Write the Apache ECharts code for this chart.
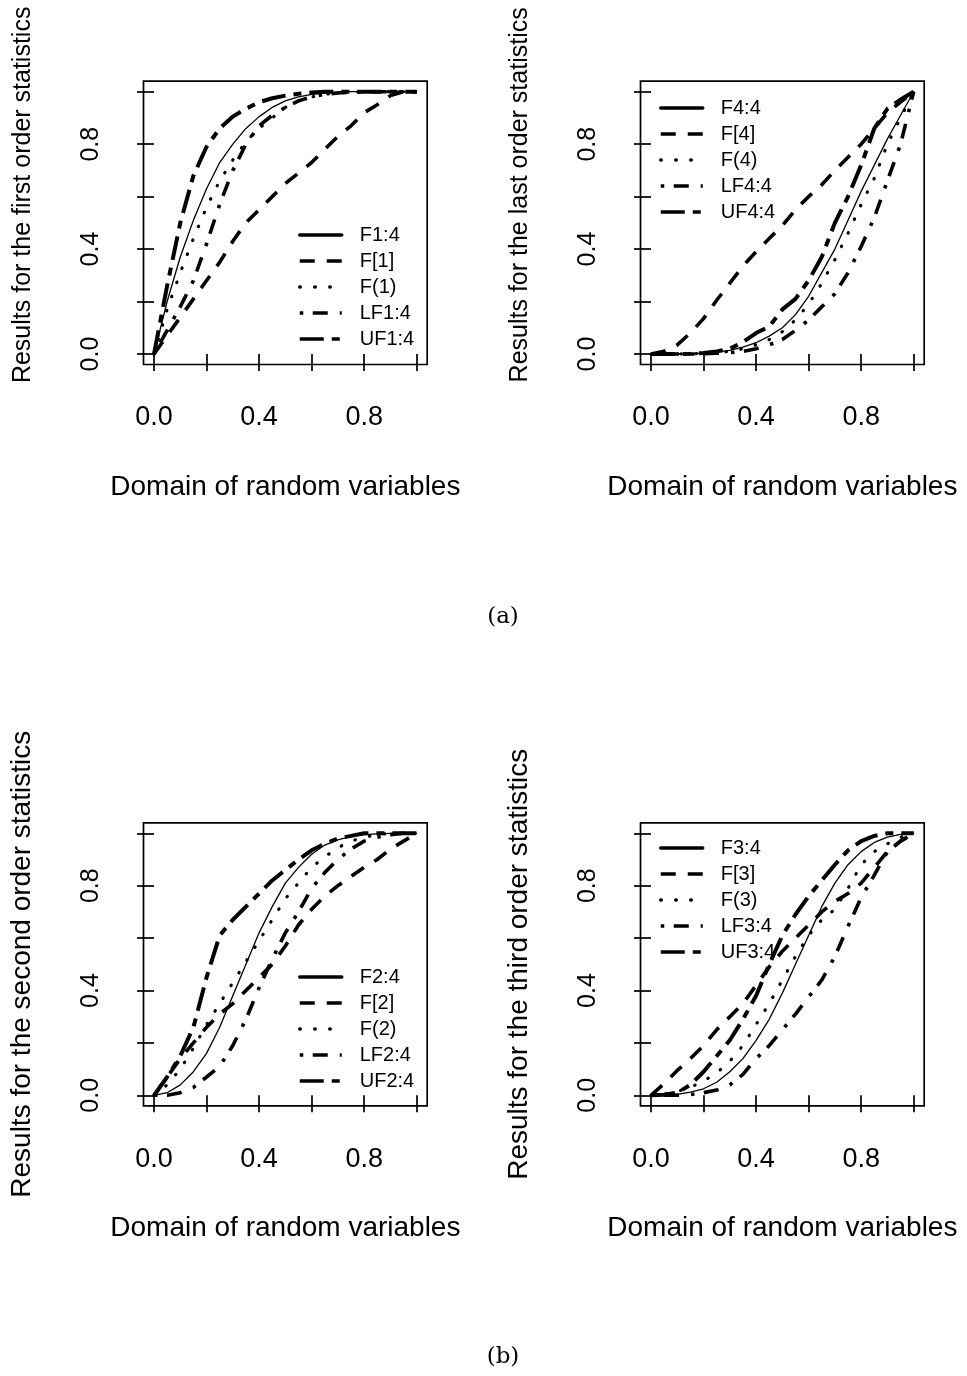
<!DOCTYPE html>
<html>
<head>
<meta charset="utf-8">
<script src="https://cdn.jsdelivr.net/npm/echarts@6/dist/echarts.min.js"></script>
<style>
html,body{margin:0;padding:0;background:#fff;}
#chart{width:967px;height:1376px;}
</style>
</head>
<body>
<div id="chart"></div>
<script>
// Domain grid (x values)
var xs = [0,0.05,0.1,0.15,0.2,0.25,0.3,0.35,0.4,0.45,0.5,0.55,0.6,0.65,0.7,0.75,0.8,0.85,0.9,0.95,1];

// Tick values
var tickValues = [0,0.2,0.4,0.6,0.8,1];
var labelValues = [0,0.4,0.8];

// Panel 1: first order statistics
var names1 = ['F1:4','F[1]','F(1)','LF1:4','UF1:4'];
var F1_4  = [0,0.2,0.37,0.51,0.63,0.73,0.80,0.86,0.905,0.94,0.965,0.98,0.99,0.995,0.998,1,1,1,1,1,1];
var Fb1   = [0,0.07,0.14,0.21,0.28,0.35,0.43,0.5,0.55,0.6,0.65,0.69,0.73,0.78,0.83,0.87,0.92,0.95,0.985,1,1];
var Fp1   = [0,0.17,0.31,0.44,0.56,0.66,0.74,0.81,0.86,0.9,0.94,0.965,0.98,0.99,0.995,0.998,1,1,1,1,1];
var LF1_4 = [0,0.09,0.18,0.28,0.42,0.57,0.70,0.80,0.87,0.91,0.94,0.965,0.98,0.99,0.995,0.998,1,1,1,1,1];
var UF1_4 = [0,0.26,0.5,0.68,0.79,0.86,0.905,0.935,0.96,0.975,0.985,0.992,0.997,1,1,1,1,1,1,1,1];

// Panel 2: last order statistics
var names2 = ['F4:4','F[4]','F(4)','LF4:4','UF4:4'];
var F4_4  = [0,0,0,0.001,0.003,0.007,0.014,0.026,0.043,0.068,0.10,0.15,0.22,0.31,0.40,0.51,0.62,0.72,0.82,0.91,1];
var Fb4   = [0,0.01,0.035,0.08,0.135,0.205,0.27,0.335,0.39,0.44,0.49,0.55,0.6,0.645,0.7,0.75,0.8,0.86,0.92,0.96,1];
var Fp4   = [0,0,0,0.001,0.002,0.005,0.01,0.02,0.035,0.055,0.085,0.13,0.19,0.27,0.36,0.46,0.57,0.67,0.8,0.9,1];
var LF4_4 = [0,0,0,0,0.001,0.003,0.005,0.01,0.02,0.035,0.055,0.09,0.13,0.18,0.23,0.31,0.41,0.52,0.66,0.8,1];
var UF4_4 = [0,0,0,0.001,0.004,0.01,0.02,0.045,0.08,0.105,0.17,0.21,0.28,0.37,0.5,0.6,0.72,0.86,0.935,0.97,1];

// Panel 3: second order statistics
var names3 = ['F2:4','F[2]','F(2)','LF2:4','UF2:4'];
var F2_4  = [0,0.01,0.04,0.09,0.16,0.26,0.38,0.5,0.62,0.72,0.81,0.87,0.92,0.955,0.975,0.988,0.995,0.998,1,1,1];
var Fb2   = [0,0.07,0.14,0.2,0.26,0.31,0.35,0.4,0.45,0.5,0.57,0.65,0.71,0.76,0.8,0.835,0.87,0.9,0.94,0.97,1];
var Fp2   = [0,0.04,0.1,0.18,0.27,0.35,0.43,0.51,0.59,0.67,0.75,0.81,0.87,0.91,0.945,0.97,0.985,0.995,1,1,1];
var LF2_4 = [0,0,0.01,0.03,0.07,0.11,0.19,0.29,0.41,0.52,0.62,0.7,0.79,0.85,0.9,0.94,0.97,0.985,0.995,1,1];
var UF2_4 = [0,0.07,0.15,0.26,0.45,0.61,0.67,0.72,0.77,0.82,0.86,0.9,0.935,0.96,0.98,0.99,1,1,1,1,1];

// Panel 4: third order statistics
var names4 = ['F3:4','F[3]','F(3)','LF3:4','UF3:4'];
var F3_4  = [0,0.001,0.004,0.012,0.025,0.05,0.09,0.14,0.21,0.29,0.39,0.5,0.61,0.72,0.81,0.88,0.93,0.965,0.985,0.996,1];
var Fb3   = [0,0.045,0.095,0.14,0.19,0.25,0.3,0.35,0.42,0.49,0.55,0.6,0.65,0.7,0.74,0.77,0.81,0.87,0.93,0.97,1];
var Fp3   = [0,0.005,0.015,0.03,0.055,0.085,0.13,0.19,0.27,0.35,0.44,0.53,0.61,0.67,0.71,0.79,0.88,0.93,0.96,0.985,1];
var LF3_4 = [0,0,0,0.003,0.01,0.02,0.04,0.08,0.14,0.19,0.25,0.31,0.375,0.44,0.53,0.645,0.755,0.84,0.93,0.97,1];
var UF3_4 = [0,0.002,0.01,0.04,0.09,0.15,0.21,0.29,0.38,0.5,0.61,0.69,0.76,0.82,0.88,0.935,0.97,0.99,1,1,1];

var xTitle = 'Domain of random variables';
var yTitles = ['Results for the first order statistics','Results for the last order statistics',
               'Results for the second order statistics','Results for the third order statistics'];
var captions = ['(a)','(b)'];

var panels = [
  {names: names1, ys: [F1_4, Fb1, Fp1, LF1_4, UF1_4]},
  {names: names2, ys: [F4_4, Fb4, Fp4, LF4_4, UF4_4]},
  {names: names3, ys: [F2_4, Fb2, Fp2, LF2_4, UF2_4]},
  {names: names4, ys: [F3_4, Fb3, Fp3, LF3_4, UF3_4]}
];

// layout (not data)
var gridPos = [
  {left: 143.5, top: 81.2, width: 283.7, height: 283.3},
  {left: 640.5, top: 81.2, width: 283.7, height: 283.3},
  {left: 143.5, top: 822.8, width: 283.7, height: 283.0},
  {left: 640.5, top: 822.8, width: 283.7, height: 283.0}
];
var legendPos = [
  {left: 298, top: 225},
  {left: 659, top: 98},
  {left: 298, top: 967},
  {left: 659, top: 838}
];
var lineStyles = [
  {width: 1.3, type: 'solid', cap: 'round'},
  {width: 3.6, type: [15, 12], cap: 'butt'},
  {width: 3.2, type: [0.5, 14.5], cap: 'round'},
  {width: 3.6, type: [3.5, 9.5, 15, 12], cap: 'butt'},
  {width: 4.0, type: [24, 8, 8, 8], cap: 'butt'}
];

var FONT = '"Liberation Sans", Arial, Helvetica, sans-serif';

var grids = [], xAxes = [], yAxes = [], legends = [], series = [];
panels.forEach(function (p, i) {
  var top = i < 2;
  grids.push({
    left: gridPos[i].left, top: gridPos[i].top, width: gridPos[i].width, height: gridPos[i].height,
    show: true, borderColor: '#000', borderWidth: 1.7, backgroundColor: 'transparent', containLabel: false
  });
  xAxes.push({
    type: 'value', gridIndex: i, min: -0.04, max: 1.04,
    axisLine: {show: false},
    splitLine: {show: false},
    axisTick: {show: true, inside: false, length: 17, customValues: tickValues, lineStyle: {color: '#000', width: 1.7}},
    axisLabel: {show: true, customValues: labelValues, margin: 40, fontSize: 27, color: '#000', fontFamily: FONT,
      formatter: function (v) { return Number(v).toFixed(1); }},
    name: xTitle, nameLocation: 'middle', nameGap: 108.5,
    nameTextStyle: {fontSize: 28, color: '#000', fontFamily: FONT}
  });
  yAxes.push({
    type: 'value', gridIndex: i, min: -0.04, max: 1.04,
    axisLine: {show: false},
    splitLine: {show: false},
    axisTick: {show: true, inside: false, length: 17, customValues: tickValues, lineStyle: {color: '#000', width: 1.7}},
    axisLabel: {show: true, customValues: labelValues, rotate: 90, margin: 40, fontSize: 25, color: '#000', fontFamily: FONT,
      formatter: function (v) { return Number(v).toFixed(1); }},
    name: yTitles[i], nameLocation: 'middle', nameGap: top ? 107.5 : 107,
    nameTextStyle: top ? {fontSize: 25, color: '#000', fontFamily: FONT, padding: [0, 0, 0, 56]}
                       : {fontSize: 28, color: '#000', fontFamily: FONT}
  });
  legends.push({
    data: p.names, orient: 'vertical', left: legendPos[i].left, top: legendPos[i].top,
    padding: 0, itemWidth: 42, itemHeight: 14, itemGap: 6, selectedMode: false,
    textStyle: {fontSize: 20, lineHeight: 20, color: '#000', fontFamily: FONT, padding: [0, 0, 0, 13]},
    lineStyle: {width: 3.5},
    itemStyle: {color: 'transparent', borderColor: 'transparent', borderWidth: 0, opacity: 0}
  });
  p.ys.forEach(function (ys, k) {
    series.push({
      type: 'line', name: p.names[k], xAxisIndex: i, yAxisIndex: i,
      data: xs.map(function (x, j) { return [x, ys[j]]; }),
      symbol: 'none', showSymbol: false, smooth: false, silent: true,
      lineStyle: {color: '#000', width: lineStyles[k].width, type: lineStyles[k].type, cap: lineStyles[k].cap, join: 'round'},
      itemStyle: {color: '#000'},
      emphasis: {disabled: true}
    });
  });
});

var chart = echarts.init(document.getElementById('chart'), null, {renderer: 'canvas'});
chart.setOption({
  animation: false,
  backgroundColor: '#fff',
  textStyle: {fontFamily: FONT, color: '#000'},
  grid: grids,
  xAxis: xAxes,
  yAxis: yAxes,
  legend: legends,
  series: series,
  graphic: [
    {type: 'text', x: 503, y: 617, silent: true,
      style: {text: captions[0], fill: '#000', font: '23px "DejaVu Serif", serif', textAlign: 'center', textVerticalAlign: 'middle'}},
    {type: 'text', x: 503, y: 1357, silent: true,
      style: {text: captions[1], fill: '#000', font: '23px "DejaVu Serif", serif', textAlign: 'center', textVerticalAlign: 'middle'}}
  ]
});
</script>
</body>
</html>
